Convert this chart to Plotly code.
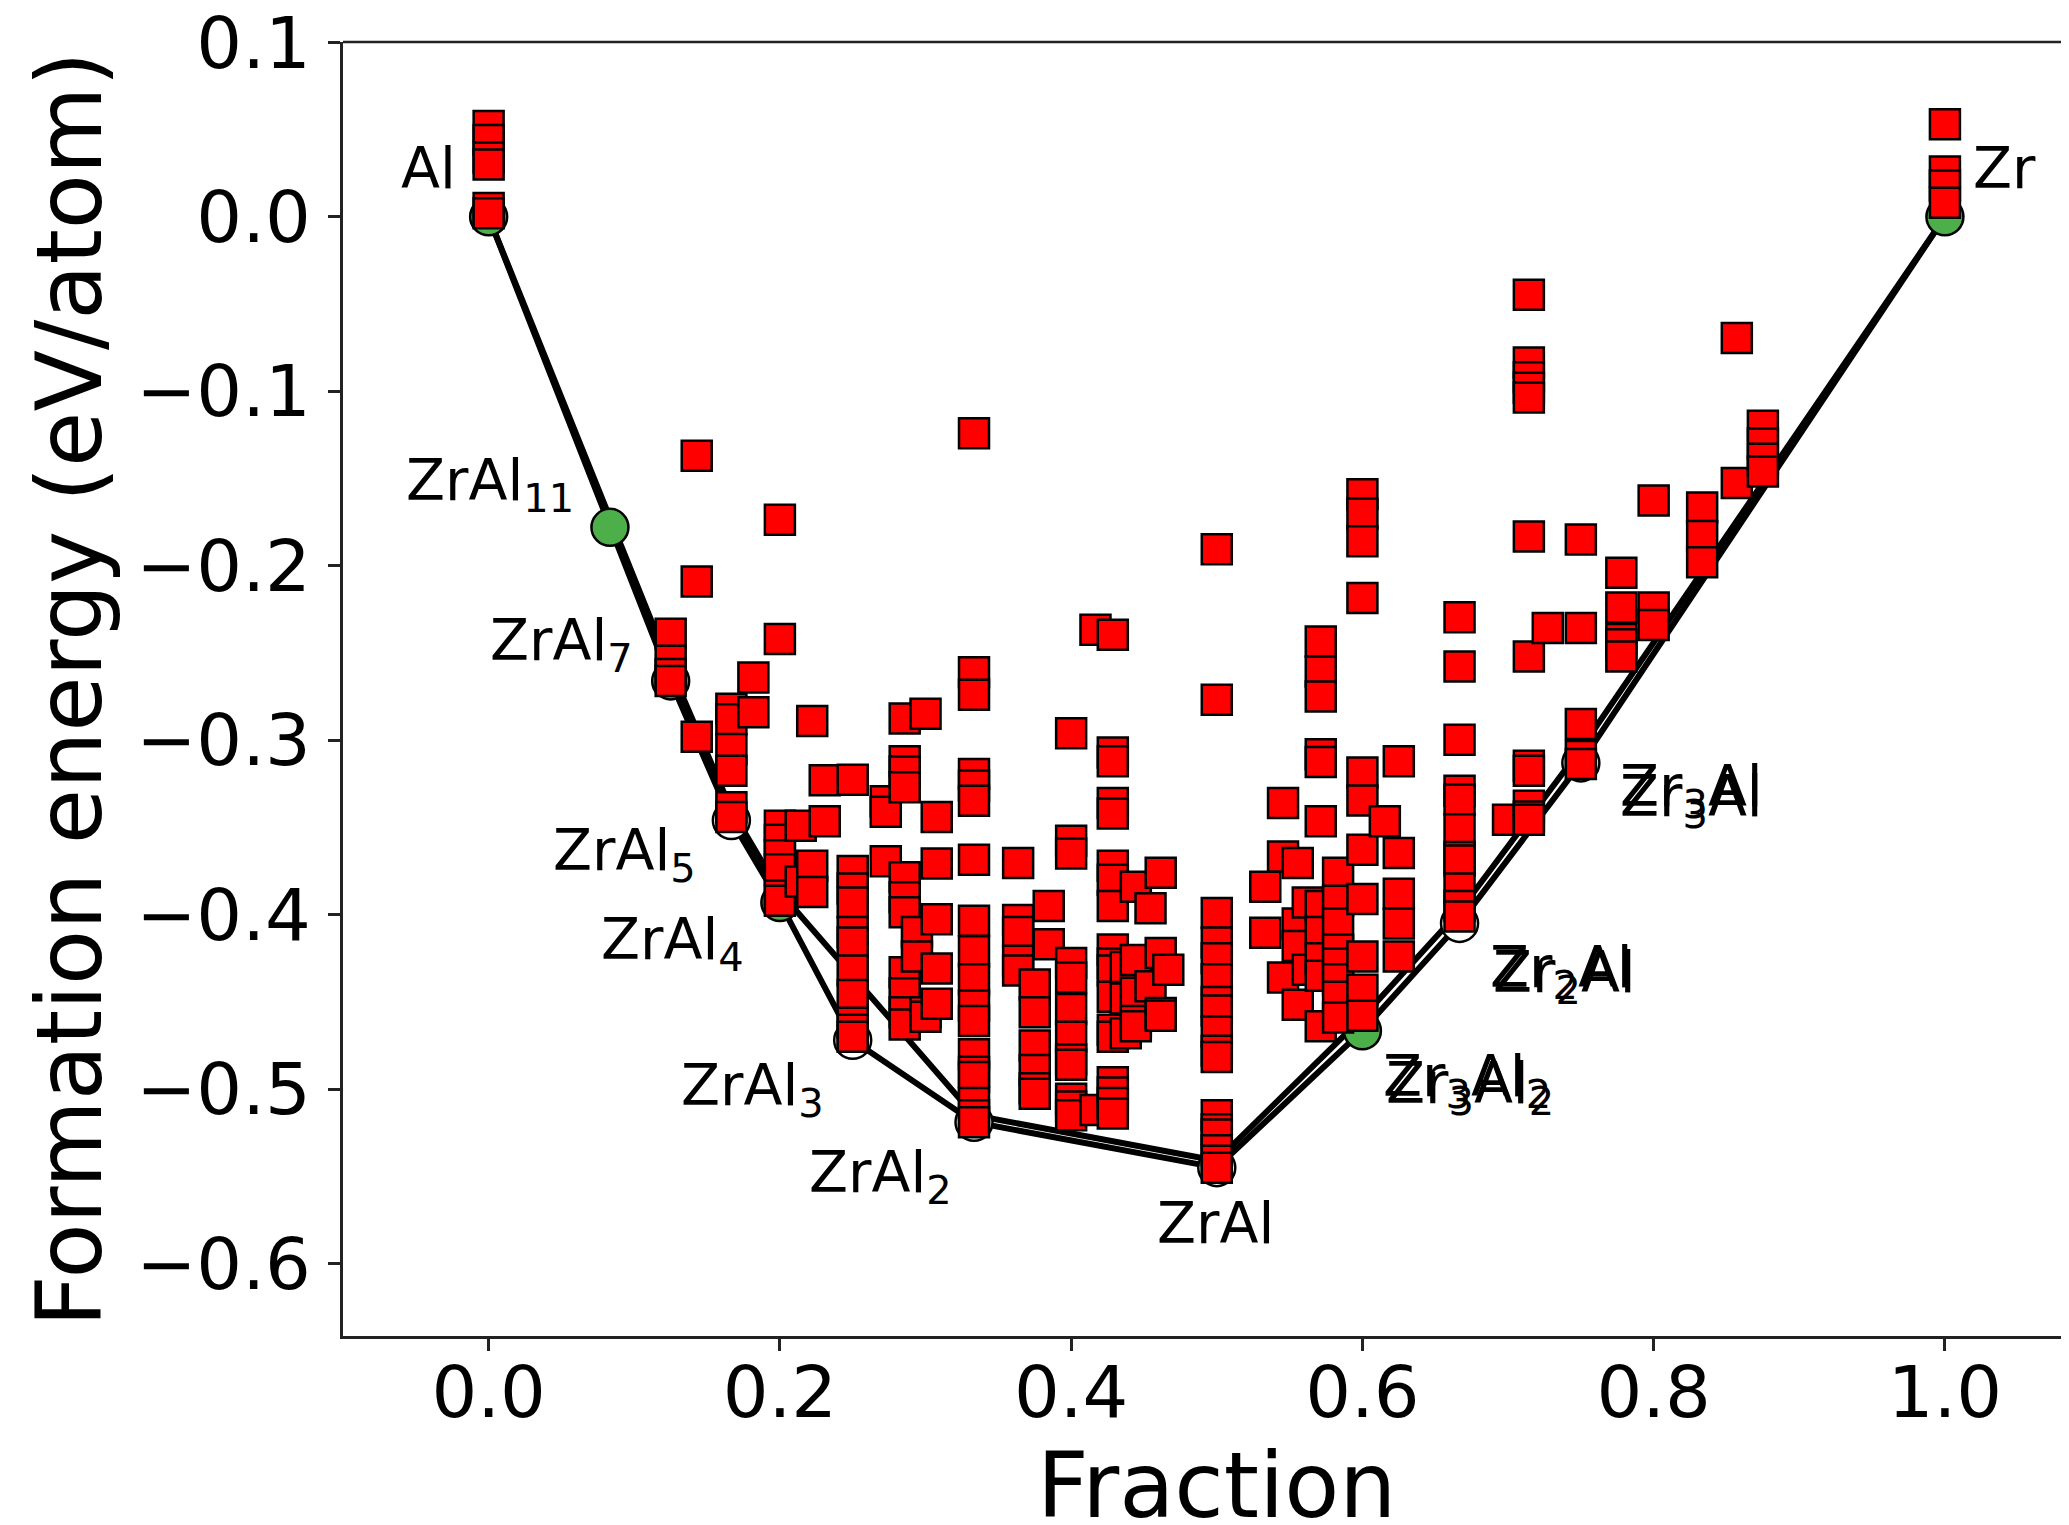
import plotly.graph_objects as go

FONT = "DejaVu Sans"

# ---------------- data ----------------
# convex-hull (stable) phases: Zr fraction and formation energy (eV/atom)
hull_names = ["Al", "ZrAl11", "ZrAl7", "ZrAl5", "ZrAl4", "ZrAl3", "ZrAl2", "ZrAl",
              "Zr3Al2", "Zr2Al", "Zr3Al", "Zr"]
hull_x = [0.0, 0.0833, 0.125, 0.1667, 0.2, 0.25, 0.3333, 0.5, 0.6, 0.6667, 0.75, 1.0]
hull_e = [0.0, -0.178, -0.266, -0.346, -0.393, -0.472, -0.519, -0.545, -0.4665, -0.405, -0.313, 0.0]

# second (overlaid) hull, without ZrAl3
hull2_x = [0.0, 0.0833, 0.125, 0.1667, 0.2, 0.3333, 0.5, 0.6, 0.6667, 0.75, 1.0]
hull2_e = [0.0, -0.172, -0.259, -0.340, -0.387, -0.515, -0.541, -0.459, -0.398, -0.305, 0.0]

# unstable structures, grouped by composition (Zr fraction)
col_x = [0.0, 0.125, 0.1429, 0.1667, 0.1818, 0.2, 0.2143, 0.2222, 0.2308, 0.25,
         0.2727, 0.2857, 0.2941, 0.3, 0.3077, 0.3333, 0.3636, 0.375, 0.3846, 0.4,
         0.4167, 0.4286, 0.4375, 0.4444, 0.4545, 0.4615, 0.4667, 0.5, 0.5333, 0.5455,
         0.5556, 0.5625, 0.5714, 0.5833, 0.6, 0.6154, 0.625, 0.6667, 0.7, 0.7143,
         0.7273, 0.75, 0.7778, 0.8, 0.8333, 0.8571, 0.875, 1.0]
col_e = [
    [0.052, 0.044, 0.034, 0.030, 0.005, 0.002],
    [-0.239, -0.2545, -0.262, -0.266],
    [-0.137, -0.209, -0.298],
    [-0.282, -0.288, -0.305, -0.3175, -0.3385, -0.344],
    [-0.264, -0.284],
    [-0.1736, -0.242, -0.349, -0.357, -0.366, -0.374, -0.389, -0.392],
    [-0.349, -0.381],
    [-0.289, -0.372, -0.387],
    [-0.323, -0.3464],
    [-0.3226, -0.375, -0.385, -0.393, -0.41, -0.416, -0.432, -0.446, -0.462, -0.466, -0.47],
    [-0.335, -0.341, -0.3694],
    [-0.2875, -0.312, -0.318, -0.327, -0.3786, -0.39, -0.3986, -0.433, -0.445, -0.456, -0.463],
    [-0.41, -0.424],
    [-0.2848, -0.456, -0.4585],
    [-0.344, -0.3707, -0.4026, -0.4308, -0.451],
    [-0.124, -0.261, -0.274, -0.3194, -0.326, -0.3347, -0.3685, -0.4035, -0.421, -0.437,
     -0.452, -0.461, -0.48, -0.49, -0.493, -0.508, -0.515, -0.519],
    [-0.3704, -0.403, -0.41, -0.4264, -0.432],
    [-0.44, -0.456, -0.475, -0.489, -0.4995, -0.5026],
    [-0.395, -0.417],
    [-0.296, -0.3576, -0.365, -0.4277, -0.436, -0.454, -0.47, -0.483, -0.486, -0.5055, -0.51, -0.515],
    [-0.2367, -0.512],
    [-0.2395, -0.307, -0.312, -0.336, -0.342, -0.372, -0.380, -0.395, -0.42, -0.428,
     -0.432, -0.447, -0.466, -0.47, -0.496, -0.502, -0.508, -0.514],
    [-0.43, -0.448, -0.468],
    [-0.384, -0.426, -0.4447, -0.461, -0.464],
    [-0.3963, -0.441],
    [-0.376, -0.422, -0.4564, -0.458],
    [-0.4315],
    [-0.1905, -0.2768, -0.399, -0.416, -0.425, -0.437, -0.45, -0.455, -0.467, -0.478,
     -0.4816, -0.515, -0.523, -0.526, -0.535, -0.541, -0.545],
    [-0.384, -0.4103],
    [-0.336, -0.3666, -0.436],
    [-0.3704, -0.405, -0.418, -0.4516],
    [-0.393, -0.4315],
    [-0.2434, -0.2606, -0.275, -0.308, -0.3125, -0.3465, -0.395, -0.41, -0.425, -0.435, -0.464],
    [-0.376, -0.392, -0.405, -0.42, -0.428, -0.437, -0.447, -0.459],
    [-0.159, -0.170, -0.186, -0.2185, -0.3185, -0.3345, -0.3628, -0.391, -0.424, -0.443, -0.458],
    [-0.3465],
    [-0.312, -0.3647, -0.388, -0.405, -0.424],
    [-0.2295, -0.2577, -0.2997, -0.329, -0.334, -0.351, -0.367, -0.369, -0.385, -0.395, -0.401],
    [-0.3456],
    [-0.0447, -0.0835, -0.092, -0.098, -0.1035, -0.1832, -0.252, -0.3146, -0.3175, -0.3375, -0.3438, -0.3456],
    [-0.2357],
    [-0.185, -0.2357, -0.2907, -0.309, -0.3137],
    [-0.204, -0.224, -0.242, -0.245, -0.252],
    [-0.1626, -0.224, -0.234],
    [-0.1666, -0.183, -0.198],
    [-0.0695, -0.1526],
    [-0.1198, -0.130, -0.1387, -0.146],
    [0.053, 0.026, 0.018, 0.008],
]

# phase labels (text and data position)
label_text = ["Al", "Zr", "ZrAl<sub>11</sub>", "ZrAl<sub>7</sub>", "ZrAl<sub>5</sub>",
              "ZrAl<sub>4</sub>", "ZrAl<sub>3</sub>", "ZrAl<sub>2</sub>", "ZrAl",
              "Zr<sub>3</sub>Al<sub>2</sub>", "Zr<sub>3</sub>Al<sub>2</sub>",
              "Zr<sub>2</sub>Al", "Zr<sub>2</sub>Al", "Zr<sub>3</sub>Al", "Zr<sub>3</sub>Al"]
label_x = [-0.041, 1.041, 0.001, 0.050, 0.093, 0.126, 0.181, 0.269, 0.499,
           0.672, 0.674, 0.737, 0.739, 0.826, 0.826]
label_y = [0.028, 0.028, -0.153, -0.245, -0.365, -0.416, -0.500, -0.550, -0.577,
           -0.495, -0.499, -0.432, -0.435, -0.3285, -0.3345]

x_ticks = [0.0, 0.2, 0.4, 0.6, 0.8, 1.0]
x_ticktext = ["0.0", "0.2", "0.4", "0.6", "0.8", "1.0"]
y_ticks = [0.1, 0.0, -0.1, -0.2, -0.3, -0.4, -0.5, -0.6]
y_ticktext = ["0.1", "0.0", "\u22120.1", "\u22120.2", "\u22120.3", "\u22120.4", "\u22120.5", "\u22120.6"]

# ---------------- figure ----------------
ux, ue = [], []
for cx, es in zip(col_x, col_e):
    for e in es:
        ux.append(cx)
        ue.append(e)

# circles whose green fill shows in the original vs. those seen only as outlines
green_phases = {"Al", "ZrAl11", "ZrAl7", "ZrAl4", "Zr3Al2", "Zr"}
hull_fill = ["#4daf4a" if n in green_phases else "white" for n in hull_names]

fig = go.Figure()
fig.add_trace(go.Scatter(x=hull2_x, y=hull2_e, mode="lines",
                         line=dict(color="black", width=6), hoverinfo="skip"))
fig.add_trace(go.Scatter(x=hull_x, y=hull_e, mode="lines",
                         line=dict(color="black", width=6), hoverinfo="skip"))
fig.add_trace(go.Scatter(x=hull_x, y=hull_e, mode="markers",
                         marker=dict(symbol="circle", size=37, color=hull_fill,
                                     line=dict(color="black", width=2.5))))
fig.add_trace(go.Scatter(x=ux, y=ue, mode="markers",
                         marker=dict(symbol="square", size=30, color="#ff0000",
                                     line=dict(color="black", width=2.5))))

for t, lx, ly in zip(label_text, label_x, label_y):
    fig.add_annotation(x=lx, y=ly, xref="x", yref="y", text=t, showarrow=False,
                       xanchor="center", yanchor="middle",
                       font=dict(family=FONT, size=57, color="black"))

# axis titles
fig.add_annotation(x=0.5, xref="x", y=-0.1159, yref="paper", text="Fraction",
                   showarrow=False, xanchor="center", yanchor="middle",
                   font=dict(family=FONT, size=90, color="black"))
fig.add_annotation(x=-0.1587, xref="paper", y=0.5, yref="paper",
                   text="Formation energy (eV/atom)", textangle=-90,
                   showarrow=False, xanchor="center", yanchor="middle",
                   font=dict(family=FONT, size=90, color="black"))

# top spine (right spine is cut off in the original)
fig.add_shape(type="line", xref="paper", yref="paper", x0=0, x1=1, y0=1, y1=1,
              line=dict(color="#222222", width=2.5))

axis_common = dict(showgrid=False, zeroline=False, showline=True, linecolor="#222222",
                   linewidth=2.5, ticks="outside", ticklen=12, tickwidth=2.5,
                   tickcolor="#222222", tickfont=dict(family=FONT, size=72, color="black"),
                   mirror=False, ticklabeloverflow="allow")
fig.update_xaxes(range=[-0.1, 1.0852], tickmode="array", tickvals=x_ticks,
                 ticktext=x_ticktext, ticklabelstandoff=-20, **axis_common)
fig.update_yaxes(range=[-0.6415, 0.1002], tickmode="array", tickvals=y_ticks,
                 ticktext=y_ticktext, ticklabelstandoff=3, **axis_common)

# page body has an 8px margin, so the figure is shifted by 8px
fig.update_layout(width=2061, height=1517, showlegend=False,
                  margin=dict(l=335, r=0, t=34, b=189, autoexpand=False),
                  plot_bgcolor="white", paper_bgcolor="white",
                  font=dict(family=FONT))

fig.write_html("out.html", config={"displayModeBar": False})
